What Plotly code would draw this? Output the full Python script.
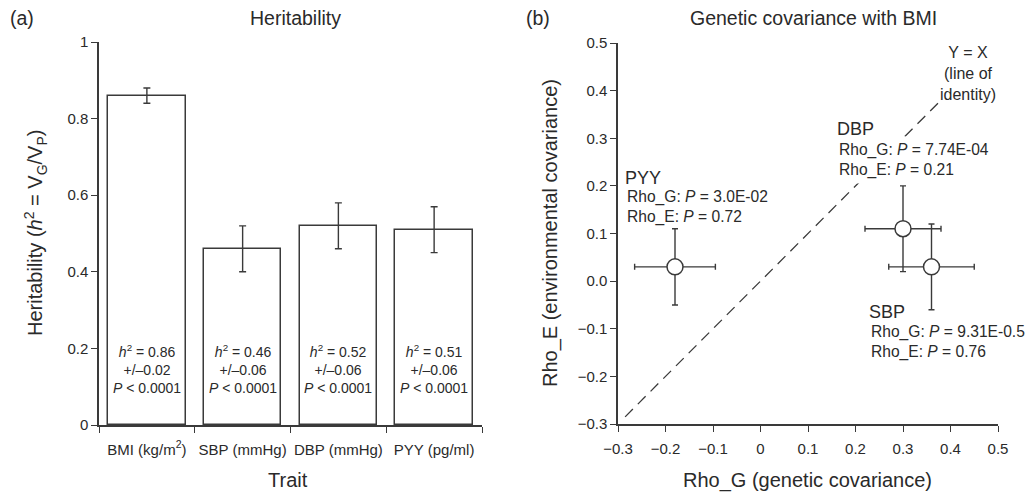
import plotly.graph_objects as go

# ---- Panel (a) data ----
traits = ["BMI (kg/m<sup>2</sup>)", "SBP (mmHg)", "DBP (mmHg)", "PYY (pg/ml)"]
h2 = [0.86, 0.46, 0.52, 0.51]
h2_se = [0.02, 0.06, 0.06, 0.06]
h2_p = ["&lt; 0.0001", "&lt; 0.0001", "&lt; 0.0001", "&lt; 0.0001"]
a_yticks = [0, 0.2, 0.4, 0.6, 0.8, 1]

# ---- Panel (b) data ----
pts = ["PYY", "DBP", "SBP"]
rho_g = [-0.18, 0.30, 0.36]
rho_g_err = [0.085, 0.08, 0.09]
rho_e = [0.03, 0.11, 0.03]
rho_e_err = [0.08, 0.09, 0.09]
p_g = ["3.0E-02", "7.74E-04", "9.31E-0.5"]
p_e = ["0.72", "0.21", "0.76"]
identity = [-0.285, 0.375]
b_ticks = [-0.3, -0.2, -0.1, 0, 0.1, 0.2, 0.3, 0.4, 0.5]

FONT = "Liberation Sans, Arial, sans-serif"
INK = "#2a2a2a"
LINE = "#3a3a3a"

# page body has an 8px margin; figure is sized to fill the rest of the window
OFF = 8
W, H = 1033 - OFF, 496 - OFF
def px(x):
    return (x - OFF) / W
def py(y):
    return 1 - (y - OFF) / H

fig = go.Figure()

xpos = [i + 0.5 for i in range(len(traits))]
fig.add_trace(go.Bar(
    x=xpos, y=h2, width=0.81,
    marker=dict(color="white", line=dict(color=LINE, width=1.5)),
    error_y=dict(type="data", array=h2_se, color=LINE, thickness=1.4, width=3.5),
    xaxis="x", yaxis="y", showlegend=False, hoverinfo="skip",
))

fig.add_trace(go.Scatter(
    x=identity, y=identity, mode="lines",
    line=dict(color=LINE, width=1.3, dash="11px,7px"),
    xaxis="x2", yaxis="y2", showlegend=False, hoverinfo="skip",
))
fig.add_trace(go.Scatter(
    x=rho_g, y=rho_e, mode="markers",
    marker=dict(size=16, color="white", line=dict(color=LINE, width=1.5)),
    error_x=dict(type="data", array=rho_g_err, color=LINE, thickness=1.4, width=3),
    error_y=dict(type="data", array=rho_e_err, color=LINE, thickness=1.4, width=3),
    xaxis="x2", yaxis="y2", showlegend=False, hoverinfo="skip",
))

ann = []
# bar labels
for xi, v, s, p in zip(xpos, h2, h2_se, h2_p):
    ann.append(dict(
        x=xi, y=0.146, xref="x", yref="y", showarrow=False,
        xanchor="center", yanchor="middle",
        text=f"<i>h</i><sup>2</sup> = {v:.2f}<br>+/–{s:.2f}<br><i>P</i> {p}",
        font=dict(family=FONT, size=14, color=INK), align="center",
    ))

# point labels (header, body) positions in data coords
lab_pos = {"PYY": ((-0.291, 0.2165), (-0.291, 0.156)),
           "DBP": ((0.155, 0.319), (0.155, 0.254)),
           "SBP": ((0.222, -0.064), (0.222, -0.127))}
for name, pg, pe in zip(pts, p_g, p_e):
    (hx, hy), (bx, by) = lab_pos[name]
    bg = "white" if name == "DBP" else "rgba(0,0,0,0)"
    ann.append(dict(x=hx, y=hy, xref="x2", yref="y2", showarrow=False,
                    xanchor="left", yanchor="middle", text=name, bgcolor=bg,
                    borderpad=2, font=dict(family=FONT, size=18, color=INK)))
    ann.append(dict(x=bx, y=by, xref="x2", yref="y2", showarrow=False,
                    xanchor="left", yanchor="middle", align="left", bgcolor=bg,
                    borderpad=4,
                    text=f"Rho_G: <i>P</i> = {pg}<br>Rho_E: <i>P</i> = {pe}",
                    font=dict(family=FONT, size=15.6, color=INK)))

ann.append(dict(x=0.437, y=0.437, xref="x2", yref="y2", showarrow=False,
                xanchor="center", yanchor="middle",
                align="center", text="Y = X<br>(line of<br>identity)",
                font=dict(family=FONT, size=16, color=INK)))

def paper_text(x, y, text, angle=0, size=20):
    return dict(x=px(x), y=py(y), xref="paper", yref="paper", showarrow=False,
                xanchor="center", yanchor="middle", textangle=angle,
                text=text, font=dict(family=FONT, size=size, color=INK))

# titles and panel letters
ann += [
    paper_text(295, 18, "Heritability", size=19.5),
    paper_text(813, 18, "Genetic covariance with BMI", size=19.5),
    paper_text(22, 18, "(a)", size=19.5),
    paper_text(538, 18, "(b)", size=19.5),
    paper_text(35, 233, "Heritability (<i>h</i><sup>2</sup> = V<sub>G</sub>/V<sub>P</sub>)", -90),
    paper_text(550, 233, "Rho_E (environmental covariance)", -90),
    paper_text(288, 480, "Trait"),
    paper_text(807, 480, "Rho_G (genetic covariance)"),
]

axis_common = dict(showline=True, linecolor=LINE, linewidth=1.5, showgrid=False,
                   zeroline=False, ticks="outside", ticklen=6, tickwidth=1.4,
                   automargin=False,
                   tickcolor=LINE, tickfont=dict(family=FONT, size=15, color=INK))

fig.update_layout(
    width=W, height=H, margin=dict(l=0, r=0, t=0, b=0, pad=0),
    paper_bgcolor="white", plot_bgcolor="white",
    annotations=ann, bargap=0,
    xaxis=dict(axis_common, domain=[px(99), px(482)], range=[0, 4],
               tickmode="array", tickvals=xpos, ticktext=traits, ticks="",
               ticklabelstandoff=10,
               tickfont=dict(family=FONT, size=15, color=INK),
               minor=dict(tickmode="array", tickvals=[0, 1, 2, 3, 4], ticks="outside",
                          ticklen=6, tickwidth=1.4, tickcolor=LINE),
               anchor="y"),
    yaxis=dict(axis_common, domain=[py(425), py(42)], range=[0, 1],
               tickmode="array", tickvals=a_yticks, anchor="x"),
    xaxis2=dict(axis_common, domain=[px(618), px(998)], range=[-0.3, 0.5],
                tickmode="array", tickvals=b_ticks, ticklabelstandoff=4, anchor="y2"),
    yaxis2=dict(axis_common, domain=[py(424), py(43)], range=[-0.3, 0.5],
                tickmode="array", tickvals=b_ticks, tickformat=".1f", anchor="x2"),
)

fig.write_html("out.html")
